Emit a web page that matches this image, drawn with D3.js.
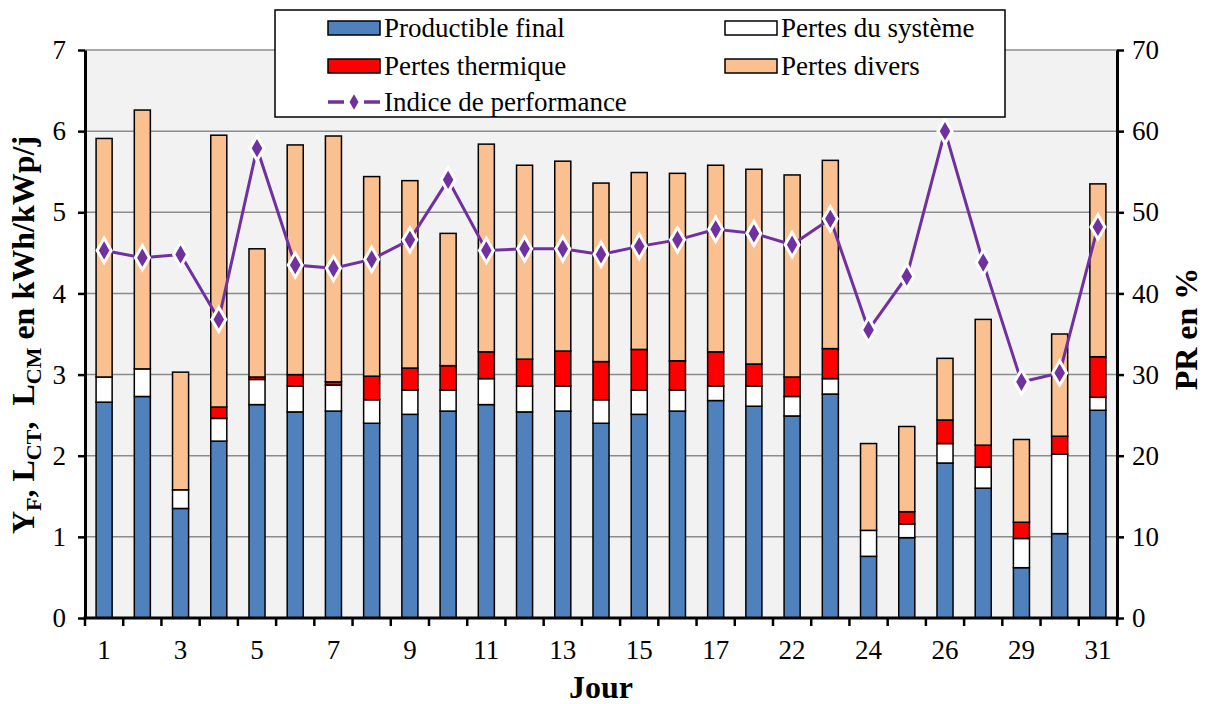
<!DOCTYPE html>
<html>
<head>
<meta charset="utf-8">
<script src="https://cdnjs.cloudflare.com/ajax/libs/d3/7.8.5/d3.min.js"></script>
<style>
  body { margin: 0; background: #fff; font-family: 'Liberation Serif', serif; }
</style>
</head>
<body>
<div id="chart"></div>
<script>
// days shown on the x axis (every other one labelled)
const jours = ['1','2','3','4','5','6','7','8','9','10','11','12','13','14','15','16','17','18','22','23','24','25','26','28','29','30','31'];

// stacked values in kWh/kWp/j
const productible = [2.66,2.73,1.35,2.18,2.63,2.54,2.55,2.40,2.51,2.55,2.63,2.54,2.55,2.40,2.51,2.55,2.68,2.61,2.49,2.76,0.76,0.99,1.91,1.60,0.62,1.04,2.56];
const pertesSysteme = [0.31,0.34,0.23,0.28,0.31,0.32,0.32,0.29,0.30,0.26,0.32,0.32,0.31,0.29,0.30,0.26,0.18,0.25,0.24,0.19,0.32,0.17,0.24,0.26,0.36,0.98,0.16];
const pertesThermique = [0.00,0.00,0.00,0.14,0.03,0.14,0.04,0.29,0.27,0.30,0.33,0.33,0.43,0.47,0.50,0.36,0.42,0.27,0.24,0.37,0.00,0.15,0.29,0.27,0.20,0.22,0.50];
const pertesDivers = [2.94,3.19,1.45,3.35,1.58,2.83,3.03,2.46,2.31,1.63,2.56,2.39,2.34,2.20,2.18,2.31,2.30,2.40,2.49,2.32,1.07,1.05,0.76,1.55,1.02,1.26,2.13];

// performance ratio in %
const indicePR = [45.3,44.4,44.8,36.8,57.9,43.5,43.1,44.2,46.6,54.0,45.3,45.5,45.5,44.8,45.8,46.6,47.9,47.4,46.0,49.2,35.5,42.1,60.0,43.8,29.1,30.2,48.2];

const series = [
  { key: 'productible', label: 'Productible final', color: '#4f81bd' },
  { key: 'systeme', label: 'Pertes du système', color: '#ffffff' },
  { key: 'thermique', label: 'Pertes thermique', color: '#ff0000' },
  { key: 'divers', label: 'Pertes divers', color: '#fac090' }
];

const rows = jours.map((j, i) => ({
  jour: j,
  productible: productible[i],
  systeme: pertesSysteme[i],
  thermique: pertesThermique[i],
  divers: pertesDivers[i],
  pr: indicePR[i]
}));

const FONT = 'Liberation Serif';
const W = 1207, H = 704;
const margin = { left: 85, right: 90, top: 50, bottom: 86 };
const innerW = W - margin.left - margin.right;
const innerH = H - margin.top - margin.bottom;

const svg = d3.select('#chart').append('svg')
  .attr('width', W)
  .attr('height', H);

const g = svg.append('g').attr('transform', `translate(${margin.left},${margin.top})`);

const x = d3.scaleBand()
  .domain(jours)
  .range([0, innerW])
  .paddingInner(0.58)
  .paddingOuter(0.29);
const step = x.step();

const yL = d3.scaleLinear().domain([0, 7]).range([innerH, 0]);
const yR = d3.scaleLinear().domain([0, 70]).range([innerH, 0]);

// plot background
g.append('rect')
  .attr('width', innerW)
  .attr('height', innerH)
  .attr('fill', '#f2f2f2');

// gridlines
g.append('g')
  .selectAll('line')
  .data(yL.ticks(7).filter(d => d > 0))
  .join('line')
  .attr('x1', 0).attr('x2', innerW)
  .attr('y1', d => yL(d)).attr('y2', d => yL(d))
  .attr('stroke', '#8c8c8c')
  .attr('stroke-width', 1.5);

// stacked bars
const stack = d3.stack().keys(series.map(s => s.key));
const stacked = stack(rows);

g.append('g')
  .selectAll('g')
  .data(stacked)
  .join('g')
  .attr('fill', (d, i) => series[i].color)
  .selectAll('rect')
  .data(d => d)
  .join('rect')
  .attr('x', d => x(d.data.jour))
  .attr('width', x.bandwidth())
  .attr('y', d => yL(d[1]))
  .attr('height', d => Math.max(0, yL(d[0]) - yL(d[1])))
  .attr('stroke', '#000')
  .attr('stroke-width', 1.5);

// PR line
const line = d3.line()
  .x(d => x(d.jour) + x.bandwidth() / 2)
  .y(d => yR(d.pr));

g.append('path')
  .datum(rows)
  .attr('d', line)
  .attr('fill', 'none')
  .attr('stroke', '#7030a0')
  .attr('stroke-width', 3);

const diamond = d3.symbol().type(d3.symbolDiamond).size(170);
g.append('g')
  .selectAll('path')
  .data(rows)
  .join('path')
  .attr('d', diamond)
  .attr('transform', d => `translate(${x(d.jour) + x.bandwidth() / 2},${yR(d.pr)})`)
  .attr('fill', '#7030a0')
  .attr('stroke', '#fff')
  .attr('stroke-width', 3);

// left axis
const axL = g.append('g')
  .call(d3.axisLeft(yL).ticks(7).tickSize(7).tickPadding(12).tickSizeOuter(0));
axL.select('.domain').attr('stroke-width', 3);
axL.selectAll('.tick line').attr('stroke-width', 2.5);

// right axis
const axR = g.append('g')
  .attr('transform', `translate(${innerW},0)`)
  .call(d3.axisRight(yR).ticks(7).tickSize(7).tickPadding(8).tickSizeOuter(0));
axR.select('.domain').attr('stroke-width', 3);
axR.selectAll('.tick line').attr('stroke-width', 2.5);

[axL, axR].forEach(ax => {
  ax.attr('font-family', null).attr('font-size', null);
  ax.selectAll('.tick text')
    .style('font-family', FONT)
    .style('font-size', '27px')
    .attr('fill', '#000');
});

// x axis line and band ticks
g.append('line')
  .attr('x1', -1.5).attr('x2', innerW + 1.5)
  .attr('y1', innerH).attr('y2', innerH)
  .attr('stroke', '#000')
  .attr('stroke-width', 3);

g.append('g')
  .selectAll('line')
  .data(d3.range(jours.length + 1))
  .join('line')
  .attr('x1', i => i * step).attr('x2', i => i * step)
  .attr('y1', innerH).attr('y2', innerH + 8)
  .attr('stroke', '#000')
  .attr('stroke-width', 2.5);

g.append('g')
  .selectAll('text')
  .data(jours.filter((d, i) => i % 2 === 0))
  .join('text')
  .attr('x', d => x(d) + x.bandwidth() / 2)
  .attr('y', innerH + 41)
  .attr('text-anchor', 'middle')
  .style('font-family', FONT)
  .style('font-size', '27px')
  .text(d => d);

// axis titles
svg.append('text')
  .attr('x', margin.left + innerW / 2)
  .attr('y', H - 6)
  .attr('text-anchor', 'middle')
  .style('font-family', FONT)
  .style('font-size', '32px')
  .style('font-weight', 'bold')
  .text('Jour');

const titleL = svg.append('text')
  .attr('transform', `translate(34,${margin.top + innerH / 2 + 1}) rotate(-90)`)
  .attr('text-anchor', 'middle')
  .style('font-family', FONT)
  .style('font-size', '32px')
  .style('font-weight', 'bold')
  .attr('xml:space', 'preserve');
titleL.append('tspan').text('Y');
titleL.append('tspan').attr('dy', 7).style('font-size', '22px').text('F');
titleL.append('tspan').attr('dy', -7).text(', L');
titleL.append('tspan').attr('dy', 7).style('font-size', '22px').text('CT');
titleL.append('tspan').attr('dy', -7).text(',\u00a0\u00a0L');
titleL.append('tspan').attr('dy', 7).style('font-size', '22px').text('CM');
titleL.append('tspan').attr('dy', -7).text(' en kWh/kWp/j');

svg.append('text')
  .attr('transform', `translate(1197,${margin.top + innerH / 2 - 5}) rotate(-90)`)
  .attr('text-anchor', 'middle')
  .style('font-family', FONT)
  .style('font-size', '32px')
  .style('font-weight', 'bold')
  .text('PR en %');

// legend
const leg = svg.append('g');
leg.append('rect')
  .attr('x', 275).attr('y', 10)
  .attr('width', 730).attr('height', 107)
  .attr('fill', '#fff')
  .attr('stroke', '#000')
  .attr('stroke-width', 1.5);

const legPos = [
  { x: 328, y: 28 },
  { x: 725, y: 28 },
  { x: 328, y: 66 },
  { x: 725, y: 66 }
];
// order in the picture: productible, système, thermique, divers
series.forEach((s, i) => {
  const p = legPos[i];
  leg.append('rect')
    .attr('x', p.x).attr('y', p.y - 7)
    .attr('width', 52).attr('height', 14)
    .attr('fill', s.color)
    .attr('stroke', '#000')
    .attr('stroke-width', 1.5);
  leg.append('text')
    .attr('x', p.x + 56).attr('y', p.y + 9)
    .style('font-family', FONT)
    .style('font-size', '27px')
    .text(s.label);
});

// dashed line sample with diamond
[[328, 344], [364, 380]].forEach(seg => {
  leg.append('line')
    .attr('x1', seg[0]).attr('x2', seg[1])
    .attr('y1', 102).attr('y2', 102)
    .attr('stroke', '#7030a0')
    .attr('stroke-width', 3.5);
});
leg.append('path')
  .attr('d', d3.symbol().type(d3.symbolDiamond).size(70))
  .attr('transform', 'translate(354,102)')
  .attr('fill', '#7030a0');
leg.append('text')
  .attr('x', 384).attr('y', 111)
  .style('font-family', FONT)
  .style('font-size', '27px')
  .text('Indice de performance');
</script>
</body>
</html>
